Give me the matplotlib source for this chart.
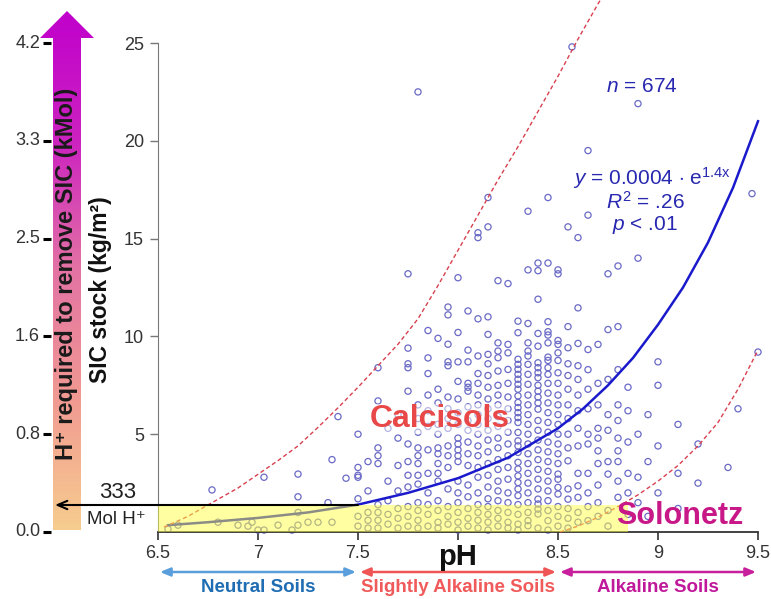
import matplotlib
matplotlib.use("Agg")
import matplotlib.pyplot as plt
import numpy as np
from matplotlib.colors import LinearSegmentedColormap
from matplotlib.patches import Polygon

plt.rcParams['font.family'] = ['Liberation Sans', 'DejaVu Sans']
plt.rcParams['mathtext.fontset'] = 'custom'
plt.rcParams['mathtext.rm'] = 'Liberation Sans'
plt.rcParams['mathtext.it'] = 'Liberation Sans:italic'

# soil samples, grouped by pH column: (pH, [SIC stock kg/m2 ...])
neutral_cols = [
    (6.55, [0.15]), (6.6, [0.35]), (6.77, [2.15]), (6.8, [0.5]), (6.9, [0.35]),
    (6.95, [0.3]), (6.97, [0.5]), (7.0, [0.1]), (7.03, [0.1, 2.8]), (7.1, [0.35]),
    (7.17, [0.1]), (7.2, [0.35, 1.0, 1.8, 2.96]), (7.25, [0.5]), (7.3, [0.5]),
    (7.35, [1.5]), (7.37, [0.5, 3.7]), (7.4, [5.9]), (7.44, [2.75]),
]
slight_cols = [
    (7.5, [0.3, 0.8, 1.7, 2.8, 2.9, 3.3, 5.0]),
    (7.55, [0.2, 0.6, 1.0, 2.1, 3.6]),
    (7.6, [0.2, 0.6, 1.0, 1.4, 3.5, 3.9, 4.3, 6.7, 8.4]),
    (7.65, [0.4, 0.9, 1.6, 2.6, 5.3]),
    (7.7, [0.2, 0.7, 1.2, 2.1, 3.4, 4.8, 6.0]),
    (7.75, [0.3, 0.8, 1.3, 2.3, 2.9, 3.6, 4.5, 7.2, 8.4, 8.6, 9.4, 13.2]),
    (7.8, [0.2, 0.6, 1.1, 1.5, 2.45, 2.9, 3.5, 3.9, 4.3, 5.1, 5.8, 6.5, 22.5]),
    (7.85, [0.3, 0.9, 1.4, 2.0, 3.0, 4.2, 5.4, 6.2, 7.0, 8.1, 8.9, 10.3]),
    (7.9, [0.2, 0.5, 1.1, 1.6, 2.6, 3.0, 3.5, 4.0, 4.3, 5.0, 5.5, 6.6, 7.3, 9.9]),
    (7.95, [0.4, 0.8, 1.3, 2.2, 3.3, 3.9, 4.4, 5.3, 5.8, 6.3, 6.9, 8.5, 8.7, 9.6, 11.1, 11.5]),
    (8.0, [0.1, 0.5, 1.0, 1.5, 2.0, 2.6, 3.6, 3.9, 4.2, 4.5, 4.8, 5.5, 6.1, 6.8, 7.7, 8.7, 10.2, 13.0]),
    (8.05, [0.3, 0.7, 1.2, 1.8, 2.4, 3.4, 4.0, 4.6, 5.2, 5.7, 6.4, 7.2, 7.4, 7.6, 8.7, 9.3, 11.3]),
    (8.1, [0.2, 0.6, 1.0, 1.4, 2.0, 2.8, 3.3, 3.9, 4.4, 5.0, 5.5, 6.0, 6.5, 7.0, 7.6, 8.1, 9.0, 10.9, 15.05, 15.3]),
    (8.15, [0.1, 0.5, 0.9, 1.3, 1.7, 2.3, 2.9, 3.5, 4.1, 4.7, 5.2, 5.8, 6.3, 6.8, 7.4, 8.0, 8.6, 9.08, 10.1, 11.0, 15.6, 17.1]),
    (8.2, [0.3, 0.7, 1.1, 1.6, 2.1, 2.6, 3.2, 3.7, 4.3, 4.8, 5.4, 5.9, 6.5, 7.0, 7.5, 8.23, 8.91, 9.25, 9.67, 12.85]),
    (8.25, [0.2, 0.5, 1.0, 1.5, 2.0, 2.7, 3.3, 3.9, 4.5, 5.1, 5.7, 6.3, 6.9, 7.6, 8.31, 9.16, 9.59, 12.7]),
    (8.3, [0.1, 0.4, 0.9, 1.4, 1.86, 2.2, 2.53, 2.87, 3.22, 3.56, 4.07, 4.4, 4.66, 5.09, 5.6, 5.85, 6.1,
           6.36, 6.62, 6.96, 7.3, 7.55, 7.81, 8.06, 8.32, 8.57, 8.83, 10.19, 10.78]),
    (8.35, [0.32, 0.58, 1.0, 1.5, 2.0, 2.5, 3.0, 3.5, 4.0, 4.5, 5.0, 5.5, 6.0, 6.5, 7.0, 7.55, 8.06, 8.57,
            9.0, 9.25, 9.67, 10.66, 13.4, 16.4]),
    (8.4, [0.2, 0.92, 1.17, 1.43, 1.68, 2.2, 2.7, 3.2, 3.7, 4.2, 4.7, 5.2, 5.7, 6.28, 6.6, 6.9, 7.2, 7.5,
           7.89, 8.14, 8.4, 8.65, 9.5, 10.15, 11.9, 13.36, 13.75]),
    (8.45, [0.1, 0.58, 1.1, 1.6, 2.1, 2.6, 3.1, 3.6, 4.1, 4.6, 5.1, 5.6, 6.1, 6.6, 7.1, 7.6, 8.06, 8.4,
            8.77, 8.94, 9.67, 10.07, 10.24, 10.75, 13.75, 17.1]),
    (8.5, [0.3, 0.8, 1.3, 1.94, 2.28, 2.7, 2.96, 3.5, 4.0, 4.5, 5.0, 5.5, 6.0, 6.5, 7.0, 7.6, 8.14, 8.77,
           9.16, 9.59, 9.79, 13.2, 13.4]),
]
alkaline_cols = [
    (8.55, [0.2, 0.7, 1.2, 1.68, 2.2, 3.64, 4.3, 5.0, 5.8, 6.5, 7.3, 8.0, 8.6, 9.42, 10.5, 15.6]),
    (8.57, [24.8]),
    (8.6, [0.5, 1.0, 1.77, 2.36, 3.0, 4.4, 5.3, 6.2, 7.0, 7.8, 8.5, 9.64, 11.46, 15.05]),
    (8.65, [0.58, 1.3, 2.0, 3.0, 4.5, 5.0, 6.3, 7.3, 8.3, 9.33, 16.2, 19.5]),
    (8.7, [0.8, 1.5, 2.4, 3.5, 4.15, 4.8, 5.3, 6.5, 7.6, 9.59]),
    (8.75, [0.3, 1.1, 2.96, 3.6, 5.2, 6.0, 7.8, 10.35, 13.2]),
    (8.8, [1.77, 2.6, 3.6, 4.15, 4.8, 5.7, 6.5, 8.3, 10.5, 13.6]),
    (8.85, [0.9, 2.0, 3.0, 4.6, 6.2, 7.4]),
    (8.9, [1.5, 2.8, 5.0, 14.0, 21.9]),
    (8.95, [0.8, 3.6, 6.0]),
    (9.0, [2.0, 4.4, 7.5, 8.7]),
    (9.1, [1.2, 3.0, 5.5]),
    (9.2, [2.5, 4.5]),
    (9.35, [3.3]),
    (9.4, [6.3]),
    (9.47, [17.3]),
    (9.5, [9.2]),
]

# exponential fit and the dashed envelope
fit_ph = [6.55, 6.75, 7.0, 7.25, 7.5, 7.75, 8.0, 8.25, 8.5, 8.625, 8.75, 8.875, 9.0, 9.125, 9.25, 9.375, 9.5]
fit_sic = [0.35, 0.5, 0.72, 1.0, 1.4, 2.0, 2.75, 3.8, 5.3, 6.3, 7.5, 8.9, 10.6, 12.5, 14.8, 17.6, 21.0]
upper_ph = [6.53, 6.65, 6.77, 6.9, 7.0, 7.1, 7.2, 7.3, 7.4, 7.5, 7.6, 7.7, 7.8, 7.9, 8.0, 8.1, 8.2,
            8.3, 8.4, 8.5, 8.6, 8.7, 8.76]
upper_sic = [0.25, 0.8, 1.5, 2.25, 2.95, 3.65, 4.4, 5.35, 6.35, 7.4, 8.5, 9.6, 10.9, 12.6, 14.4, 16.2, 18.0,
             19.7, 21.5, 23.3, 25.2, 27.0, 28.0]
lower_ph = [8.51, 8.6, 8.7, 8.8, 8.9, 9.0, 9.1, 9.2, 9.3, 9.4, 9.5]
lower_sic = [0.0, 0.3, 0.75, 1.3, 1.9, 2.6, 3.4, 4.4, 5.6, 7.3, 9.3]

sic_ticks = [5, 10, 15, 20, 25]
kmol_labels = ['4.2', '3.3', '2.5', '1.6', '0.8', '0.0']
kmol_levels = [25, 20, 15, 10, 5, 0]
ph_ticks = [6.5, 7, 7.5, 8, 8.5, 9, 9.5]
ph_ticklabels = ['6.5', '7', '7.5', '', '8.5', '9', '9.5']
band_top = 1.38
soil_classes = ['Neutral Soils', 'Slightly Alkaline Soils', 'Alkaline Soils']
soil_ranges = [(6.5, 7.5), (7.5, 8.5), (8.5, 9.5)]
soil_arrow_colors = ['#5a9fdc', '#f05555', '#c8209c']
soil_text_colors = ['#1f6db3', '#f05a5a', '#c0189a']

W, H = 771, 599
def fx(px):
    return px / W
def fy(py):
    return 1 - py / H

ph, sic = [], []
for cols in [neutral_cols, slight_cols, alkaline_cols]:
    for p, vals in cols:
        ph += [p] * len(vals)
        sic += vals

fig = plt.figure(figsize=(W / 100, H / 100), dpi=100)

# overlay axes in pixel units for the gradient arrow and left scale
ov = fig.add_axes([0, 0, 1, 1], zorder=0)
ov.set_xlim(0, W)
ov.set_ylim(H, 0)
ov.axis('off')
cmap = LinearSegmentedColormap.from_list('hplus', ['#c000cc', '#cc22c0', '#e373a4', '#f19a92', '#f7cd8f'])
grad = np.linspace(0, 1, 256).reshape(-1, 1)
im = ov.imshow(grad, cmap=cmap, aspect='auto', extent=[36, 98, 530, 10], zorder=1)
arrow_poly = Polygon([(53, 530), (81, 530), (81, 38), (94, 38), (67, 11), (40, 38), (53, 38)],
                     closed=True, facecolor='none', edgecolor='none', transform=ov.transData)
ov.add_patch(arrow_poly)
im.set_clip_path(arrow_poly)
ov.text(67, 274, 'H\u207a required to remove SIC (kMol)', rotation=90, ha='center', va='center',
        fontsize=17, fontweight='bold', color='#1a1a1a', zorder=2)
for lab, lev in zip(kmol_labels, kmol_levels):
    py = 532 - lev * 19.56
    ov.plot([43, 51], [py, py], color='black', lw=2.2, solid_capstyle='butt', zorder=2)
    ov.text(40, py, lab, ha='right', va='center', fontsize=13, color='#333333')

ax = fig.add_axes([fx(158), fy(532), 600 / W, (532 - 43) / H], zorder=1)
ax.patch.set_alpha(0)
ax.set_xlim(6.5, 9.5)
ax.set_ylim(0, 25)
ax.spines['top'].set_visible(False)
ax.spines['right'].set_visible(False)
ax.spines['left'].set_color('#777777')
ax.spines['bottom'].set_color('#333333')
ax.spines['bottom'].set_linewidth(1.3)
ax.set_yticks(sic_ticks)
ax.set_yticklabels([str(t) for t in sic_ticks])
ax.set_xticks(ph_ticks)
ax.set_xticklabels(ph_ticklabels)
ax.tick_params(axis='y', direction='out', length=6, width=1, colors='#777777', labelcolor='#333333',
               labelsize=13, pad=4)
ax.tick_params(axis='x', direction='out', length=6, width=1.2, colors='#333333', labelcolor='#333333',
               labelsize=13, pad=3)

ax.scatter(ph, sic, s=20, facecolors='none', edgecolors='#6a6ac6', linewidths=0.9, zorder=2, clip_on=False)
ax.plot(fit_ph, fit_sic, color='#1a1acc', lw=1.8, zorder=3, clip_on=False)
ax.plot(upper_ph, upper_sic, color='#d8404f', lw=1.0, ls=(0, (3, 2)), zorder=3, clip_on=False)
ax.plot(lower_ph, lower_sic, color='#d8404f', lw=1.0, ls=(0, (3, 2)), zorder=3, clip_on=False)
ax.fill_between([6.5, 8.85], 0, band_top, color='#ffff44', alpha=0.5, lw=0, zorder=4)

ax.annotate('', xy=(55, H - 505), xycoords='figure pixels', xytext=(7.5, band_top), textcoords='data',
            arrowprops=dict(arrowstyle='->,head_length=0.7,head_width=0.3', color='black', lw=1.5,
                            shrinkA=0, shrinkB=0), zorder=5)
fig.text(fx(118), fy(493), '333', ha='center', va='center', fontsize=16, color='#222222')
fig.text(fx(116), fy(520), 'Mol H\u207a', ha='center', va='center', fontsize=13.5, color='#222222')

fig.text(fx(100), fy(290), 'SIC stock (kg/m\u00b2)', rotation=90, ha='center', va='center',
         fontsize=16.5, fontweight='bold', color='#111111')
fig.text(fx(458), fy(557), 'pH', ha='center', va='center', fontsize=21, fontweight='bold', color='#111111')

ax.text(7.91, 5.8, 'Calcisols', ha='center', va='center', fontsize=23, fontweight='bold', color='#e84848',
        zorder=6, bbox=dict(facecolor='white', alpha=0.5, edgecolor='none', pad=0))
ax.text(9.11, 0.8, 'Solonetz', ha='center', va='center', fontsize=22, fontweight='bold', color='#c81888',
        zorder=6)
ax.text(8.92, 22.8, '$n$ = 674', ha='center', va='center', fontsize=15, color='#2828b0', zorder=6)
ax.text(8.97, 18.1, '$y$ = 0.0004 $\\cdot$ e$^{\\mathrm{1.4x}}$', ha='center', va='center', fontsize=15,
        color='#2828b0', zorder=6)
ax.text(8.935, 16.9, '$R^{\\mathrm{2}}$ = .26', ha='center', va='center', fontsize=15, color='#2828b0', zorder=6)
ax.text(8.935, 15.7, '$p$ < .01', ha='center', va='center', fontsize=15, color='#2828b0', zorder=6)

# soil class arrows under the pH axis
for name, (a, b), ac, tc in zip(soil_classes, soil_ranges, soil_arrow_colors, soil_text_colors):
    ax.annotate('', xy=(a + 0.01, H - 572), xycoords=('data', 'figure pixels'),
                xytext=(b - 0.01, H - 572), textcoords=('data', 'figure pixels'),
                arrowprops=dict(arrowstyle='<|-|>,head_length=0.6,head_width=0.25', color=ac, lw=1.8,
                                shrinkA=0, shrinkB=0))
    ax.annotate(name, xy=((a + b) / 2, H - 588), xycoords=('data', 'figure pixels'), ha='center',
                va='center', fontsize=13.5, fontweight='bold', color=tc)

plt.savefig('out.png', dpi=100)
